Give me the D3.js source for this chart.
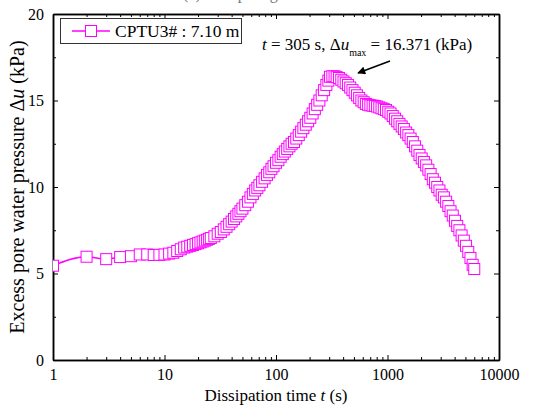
<!DOCTYPE html>
<html>
<head>
<meta charset="utf-8">
<script src="https://cdn.jsdelivr.net/npm/d3@7/dist/d3.min.js"></script>
<style>
  body { margin: 0; background: #fff; }
  text { font-family: "Liberation Serif", "Times New Roman", serif; }
</style>
</head>
<body>
<svg id="chart" width="553" height="409"></svg>
<script>
// dissipation record
const times = [1, 2, 3, 4, 5, 6, 7, 8, 9, 10,
  11, 12, 13, 14, 15, 16, 17, 18, 19, 20, 21, 22, 23, 24, 25, 26, 28, 30,
  32, 34, 36, 38, 40, 42, 44, 46, 48, 50, 53, 56, 59, 62, 65, 68, 71, 75,
  79, 83, 87, 91, 95, 100, 105, 110, 115, 120, 126, 132, 138, 145, 152, 160,
  168, 176, 185, 194, 203, 213, 223, 234, 245, 257, 270, 283, 295, 305,
  320, 335, 350, 367, 385, 403, 422, 442, 463, 485, 508, 532, 557, 583,
  611, 640, 670, 702, 735, 770, 806, 844, 884, 926, 970, 1016, 1064, 1114,
  1167, 1222, 1280, 1340, 1403, 1469, 1538, 1611, 1687, 1766, 1849, 1936,
  2027, 2122, 2222, 2326, 2435, 2549, 2668, 2793, 2924, 3061, 3205, 3355,
  3512, 3676, 3848, 4028, 4217, 4414, 4621, 4837, 5063, 5300, 5548, 5807, 6000];
const du = [5.45, 5.97, 5.83, 5.95, 6.0, 6.1, 6.1, 6.07, 6.08, 6.1,
  6.15, 6.2, 6.3, 6.4, 6.5, 6.55, 6.6, 6.65, 6.7, 6.75, 6.8, 6.85, 6.9, 6.95, 7.0, 7.05, 7.15, 7.3,
  7.4, 7.55, 7.7, 7.85, 8.0, 8.15, 8.3, 8.45, 8.6, 8.75, 8.95, 9.15, 9.4, 9.6, 9.8, 9.95, 10.1, 10.3,
  10.5, 10.7, 10.85, 11.05, 11.2, 11.4, 11.55, 11.75, 11.9, 12.05, 12.2, 12.35, 12.5, 12.6, 12.8, 13.0,
  13.2, 13.4, 13.6, 13.8, 14.0, 14.25, 14.5, 14.75, 15.0, 15.3, 15.6, 15.9, 16.15, 16.371,
  16.4, 16.4, 16.35, 16.3, 16.2, 16.1, 16.0, 15.9, 15.75, 15.6, 15.45, 15.3, 15.15, 15.0,
  14.9, 14.8, 14.75, 14.72, 14.7, 14.68, 14.65, 14.6, 14.55, 14.5, 14.45, 14.35, 14.25, 14.1,
  13.95, 13.8, 13.65, 13.5, 13.35, 13.15, 13.0, 12.8, 12.6, 12.35, 12.1, 11.85,
  11.65, 11.45, 11.25, 11.0, 10.75, 10.45, 10.25, 10.0, 9.8, 9.55, 9.4, 9.15,
  8.9, 8.6, 8.35, 8.05, 7.75, 7.5, 7.2, 6.9, 6.6, 6.25, 5.9, 5.5, 5.26];

const xTicks = [1, 10, 100, 1000, 10000];
const yTicks = [0, 5, 10, 15, 20];
const yMinor = [2.5, 7.5, 12.5, 17.5];
const seriesName = "CPTU3# : 7.10 m";
const peakT = 305, peakU = 16.371;

let width = 553, height = 409,
    margins = {top: 14, right: 54, bottom: 49, left: 53};
const magenta = "#ff00ff";

const svg = d3.select("#chart");

let x = d3.scaleLog().domain([1, 10000]).range([margins.left, width - margins.right]);
let y = d3.scaleLinear().domain([0, 20]).range([height - margins.bottom, margins.top]);

let xMinor = [];
for (let d = 1; d < 10000; d *= 10)
  for (let k = 2; k <= 9; k++) xMinor.push(d * k);

// clip to plot box
svg.append("clipPath").attr("id", "plot")
  .append("rect")
  .attr("x", x(1)).attr("y", y(20))
  .attr("width", x(10000) - x(1)).attr("height", y(0) - y(20));

// title, mostly above the window
svg.append("text")
  .attr("x", 183).attr("y", -1)
  .attr("font-size", 16).attr("fill", "#777")
  .text("(c) Dissipating");

// axes
function drawAxis(gen, tx, ty) {
  let g = svg.append("g").attr("transform", `translate(${tx},${ty})`).call(gen);
  g.selectAll("path.domain").attr("stroke", "#000").attr("stroke-width", 1.5);
  g.selectAll("line").attr("stroke", "#000").attr("stroke-width", 1);
  g.selectAll("text").attr("font-size", 16).attr("fill", "#000")
    .attr("font-family", "Liberation Serif, Times New Roman, serif");
  return g;
}

let yBot = y(0), yTop = y(20), xLeft = x(1), xRight = x(10000);

drawAxis(d3.axisBottom(x).tickValues(xTicks).tickFormat(d3.format("d"))
  .tickSizeInner(-5).tickSizeOuter(0).tickPadding(9), 0, yBot);
drawAxis(d3.axisBottom(x).tickValues(xMinor).tickFormat("")
  .tickSizeInner(-3).tickSizeOuter(0), 0, yBot);
drawAxis(d3.axisTop(x).tickValues(xTicks).tickFormat("")
  .tickSizeInner(-5).tickSizeOuter(0), 0, yTop);
drawAxis(d3.axisTop(x).tickValues(xMinor).tickFormat("")
  .tickSizeInner(-3).tickSizeOuter(0), 0, yTop);

drawAxis(d3.axisLeft(y).tickValues(yTicks).tickFormat(d3.format("d"))
  .tickSizeInner(-5).tickSizeOuter(0).tickPadding(9), xLeft, 0);
drawAxis(d3.axisLeft(y).tickValues(yMinor).tickFormat("")
  .tickSizeInner(-3).tickSizeOuter(0), xLeft, 0);
drawAxis(d3.axisRight(y).tickValues(yTicks).tickFormat("")
  .tickSizeInner(-5).tickSizeOuter(0), xRight, 0);
drawAxis(d3.axisRight(y).tickValues(yMinor).tickFormat("")
  .tickSizeInner(-3).tickSizeOuter(0), xRight, 0);

// axis titles
let xt = svg.append("text")
  .attr("x", (xLeft + xRight) / 2).attr("y", 401)
  .attr("text-anchor", "middle").attr("font-size", 17);
xt.append("tspan").text("Dissipation time ");
xt.append("tspan").attr("font-style", "italic").text("t");
xt.append("tspan").text(" (s)");

let yt = svg.append("text")
  .attr("transform", `translate(24,${(yTop + yBot) / 2}) rotate(-90)`)
  .attr("text-anchor", "middle").attr("font-size", 20);
yt.append("tspan").text("Excess pore water pressure \u0394");
yt.append("tspan").attr("font-style", "italic").text("u");
yt.append("tspan").text(" (kPa)");

// series
let data = times.map((t, i) => ({t: t, u: du[i]}));
let plot = svg.append("g").attr("clip-path", "url(#plot)");

plot.append("path")
  .datum(data)
  .attr("fill", "none").attr("stroke", magenta).attr("stroke-width", 1.5)
  .attr("d", d3.line().x(d => x(d.t)).y(d => y(d.u)).curve(d3.curveMonotoneX));

const ms = 11;
plot.selectAll("rect.mk")
  .data(data).enter()
  .append("rect").attr("class", "mk")
  .attr("x", d => x(d.t) - ms / 2).attr("y", d => y(d.u) - ms / 2)
  .attr("width", ms).attr("height", ms)
  .attr("fill", "#fff").attr("stroke", magenta).attr("stroke-width", 1);

// legend
svg.append("rect")
  .attr("x", 60.5).attr("y", 18.5).attr("width", 181).attr("height", 25)
  .attr("fill", "#fff").attr("stroke", "#333").attr("stroke-width", 1);
svg.append("line")
  .attr("x1", 72).attr("x2", 110).attr("y1", 31).attr("y2", 31)
  .attr("stroke", magenta).attr("stroke-width", 1.5);
svg.append("rect")
  .attr("x", 91 - ms / 2).attr("y", 31 - ms / 2).attr("width", ms).attr("height", ms)
  .attr("fill", "#fff").attr("stroke", magenta);
svg.append("text")
  .attr("x", 115).attr("y", 37).attr("font-size", 17.5)
  .text(seriesName);

// peak annotation
let ann = svg.append("text").attr("x", 262).attr("y", 50).attr("font-size", 17);
ann.append("tspan").attr("font-style", "italic").text("t");
ann.append("tspan").text(` = ${peakT} s, \u0394`);
ann.append("tspan").attr("font-style", "italic").text("u");
ann.append("tspan").attr("font-size", 10).attr("dy", 6).text("max");
ann.append("tspan").attr("dy", -6).text(` = ${peakU} (kPa)`);

svg.append("defs").append("marker")
  .attr("id", "head").attr("viewBox", "0 0 10 10")
  .attr("refX", 9).attr("refY", 5)
  .attr("markerWidth", 10).attr("markerHeight", 8)
  .attr("markerUnits", "userSpaceOnUse")
  .attr("orient", "auto")
  .append("path").attr("d", "M0,0 L10,5 L0,10 z").attr("fill", "#000");

svg.append("line")
  .attr("x1", 390).attr("y1", 61).attr("x2", 358).attr("y2", 73)
  .attr("stroke", "#000").attr("stroke-width", 1.5)
  .attr("marker-end", "url(#head)");
</script>
</body>
</html>
